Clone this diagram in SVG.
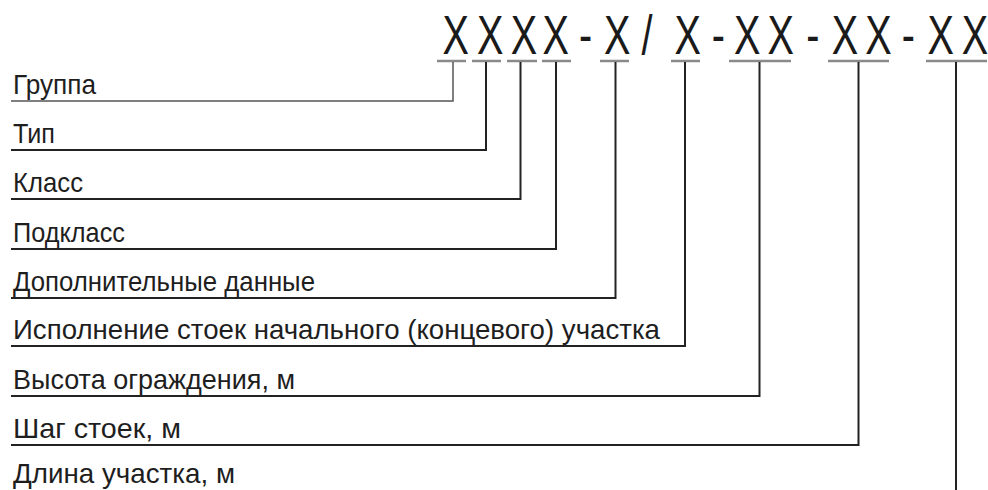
<svg xmlns="http://www.w3.org/2000/svg" width="988" height="490" viewBox="0 0 988 490">
<style>
.code{font-family:"Liberation Sans",Arial,sans-serif;font-size:55px;fill:#1a1a1a;text-anchor:middle}
.lbl{font-family:"Liberation Sans",Arial,sans-serif;font-size:28px;fill:#1e1e1e}
.ul{stroke:#8a8a8a;stroke-width:2.5;fill:none}
.con{stroke:#222;stroke-width:2;fill:none}
.thin{stroke:#555;stroke-width:1.5}
</style>
<rect width="988" height="490" fill="#fff"/>
<g id="code">
<text class="code" transform="scale(0.72 1)" y="54"><tspan x="632.8">X</tspan><tspan x="680.7">X</tspan><tspan x="727.8">X</tspan><tspan x="771.7">X</tspan><tspan x="813.2">-</tspan><tspan x="857.1">X</tspan><tspan x="898.6">/</tspan><tspan x="955.1">X</tspan><tspan x="997.6">-</tspan><tspan x="1037.9">X</tspan><tspan x="1084.3">X</tspan><tspan x="1128.8">-</tspan><tspan x="1173.6">X</tspan><tspan x="1220">X</tspan><tspan x="1261.5">-</tspan><tspan x="1306.7">X</tspan><tspan x="1354.2">X</tspan></text>
<line class="ul" x1="437" y1="61" x2="466" y2="61"/>
<line class="ul" x1="472" y1="61" x2="501" y2="61"/>
<line class="ul" x1="507" y1="61" x2="537" y2="61"/>
<line class="ul" x1="542" y1="61" x2="571" y2="61"/>
<line class="ul" x1="600" y1="61" x2="629" y2="61"/>
<line class="ul" x1="671" y1="61" x2="700" y2="61"/>
<line class="ul" x1="729" y1="61" x2="791" y2="61"/>
<line class="ul" x1="828" y1="61" x2="889" y2="61"/>
<line class="ul" x1="926" y1="61" x2="987" y2="61"/>
</g>
<g id="labels">
<g id="n-gruppa"><text class="lbl" x="13" y="93.5" textLength="83" lengthAdjust="spacingAndGlyphs">Группа</text></g>
<g id="n-tip"><text class="lbl" x="13" y="142.5" textLength="42" lengthAdjust="spacingAndGlyphs">Тип</text></g>
<g id="n-klass"><text class="lbl" x="13" y="191.5" textLength="70" lengthAdjust="spacingAndGlyphs">Класс</text></g>
<g id="n-podklass"><text class="lbl" x="13" y="241.5" textLength="112" lengthAdjust="spacingAndGlyphs">Подкласс</text></g>
<g id="n-dop"><text class="lbl" x="13" y="290.5" textLength="302" lengthAdjust="spacingAndGlyphs">Дополнительные данные</text></g>
<g id="n-ispoln"><text class="lbl" x="13" y="338.5" textLength="647" lengthAdjust="spacingAndGlyphs">Исполнение стоек начального (концевого) участка</text></g>
<g id="n-vysota"><text class="lbl" x="13" y="388.5" textLength="282" lengthAdjust="spacingAndGlyphs">Высота ограждения, м</text></g>
<g id="n-shag"><text class="lbl" x="13" y="437.5" textLength="168" lengthAdjust="spacingAndGlyphs">Шаг стоек, м</text></g>
<g id="n-dlina"><text class="lbl" x="13" y="483" textLength="222" lengthAdjust="spacingAndGlyphs">Длина участка, м</text></g>
</g>
<g id="connectors">
<path class="con thin" d="M11 101H453V62"/>
<path class="con" d="M11 150H486V62"/>
<path class="con" d="M11 199H520.5V62"/>
<path class="con" d="M11 249H556V62"/>
<path class="con" d="M11 298H615.5V62"/>
<path class="con" d="M11 346H685V62"/>
<path class="con" d="M11 396H759.5V62"/>
<path class="con" d="M11 445H858.5V62"/>
<path class="con" d="M956 490V62"/>
</g>
</svg>
